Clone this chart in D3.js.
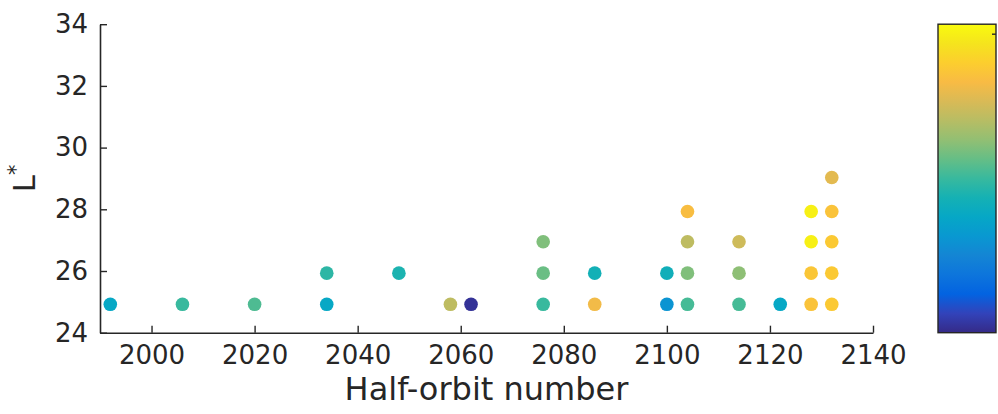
<!DOCTYPE html>
<html>
<head>
<meta charset="utf-8">
<script src="https://cdn.jsdelivr.net/npm/d3@7"></script>
<style>
  html, body { margin: 0; padding: 0; background: #ffffff; }
  svg { display: block; }
  text { font-family: "DejaVu Sans", sans-serif; fill: #262626; }
</style>
</head>
<body>
<svg id="chart" width="998" height="414"></svg>
<script>
// Half-orbit number of each measurement
const halfOrbit = [
  1992, 2006, 2020, 2034, 2034, 2048, 2058, 2062,
  2076, 2076, 2076, 2086, 2086, 2100, 2100,
  2104, 2104, 2104, 2104, 2114, 2114, 2114, 2122,
  2128, 2128, 2128, 2128, 2132, 2132, 2132, 2132, 2132
];
// L* shell of each measurement
const lStar = [
  24.92, 24.92, 24.92, 24.92, 25.93, 25.93, 24.92, 24.92,
  24.92, 25.93, 26.95, 24.92, 25.93, 24.92, 25.93,
  24.92, 25.93, 26.95, 27.93, 24.92, 25.93, 26.95, 24.92,
  24.92, 25.93, 26.95, 27.93, 24.92, 25.93, 26.95, 27.93, 29.03
];
// Normalised colour value of each measurement (0 = bottom of colour bar, 1 = top)
const colourValue = [
  0.38, 0.50, 0.53, 0.38, 0.48, 0.45, 0.70, 0.02,
  0.50, 0.57, 0.60, 0.80, 0.43, 0.30, 0.42,
  0.52, 0.60, 0.70, 0.82, 0.52, 0.62, 0.73, 0.38,
  0.84, 0.85, 0.97, 0.97, 0.86, 0.86, 0.86, 0.84, 0.77
];

// Axis ticks
const xTicks = [2000, 2020, 2040, 2060, 2080, 2100, 2120, 2140];
const yTicks = [24, 26, 28, 30, 32, 34];

// Parula colour map anchors (evenly spaced from 0 to 1)
const parula = [
  [0.2081, 0.1663, 0.5292], [0.1959, 0.2645, 0.7279], [0.0117, 0.3875, 0.8820],
  [0.0498, 0.4586, 0.8641], [0.0793, 0.5200, 0.8312], [0.0343, 0.5966, 0.8199],
  [0.0228, 0.6535, 0.7768], [0.0843, 0.6928, 0.7062], [0.2178, 0.7250, 0.6193],
  [0.3953, 0.7459, 0.5244], [0.5709, 0.7485, 0.4494], [0.7184, 0.7411, 0.3905],
  [0.8507, 0.7299, 0.3360], [0.9739, 0.7314, 0.2666], [0.9880, 0.8066, 0.1794],
  [0.9589, 0.8949, 0.1132], [0.9763, 0.9831, 0.0538]
];
const parulaColours = parula.map(c => d3.rgb(c[0] * 255, c[1] * 255, c[2] * 255).formatHex());
const parulaDomain = parulaColours.map((_, i) => i / (parulaColours.length - 1));
const colour = d3.scaleLinear().domain(parulaDomain).range(parulaColours).interpolate(d3.interpolateRgb);

const svg = d3.select("#chart");
const plot = { left: 100, right: 873, top: 24.2, bottom: 332.7 };

const x = d3.scaleLinear().domain([1990, 2140]).range([plot.left, plot.right]);
const y = d3.scaleLinear().domain([24, 34]).range([plot.bottom, plot.top]);

const axisColour = "#262626";
const fontFamily = "'DejaVu Sans', sans-serif";

// x axis (ticks point into the plot)
const xAxis = svg.append("g")
  .attr("transform", `translate(0,${plot.bottom})`)
  .call(d3.axisBottom(x).tickValues(xTicks).tickSizeInner(-7).tickSizeOuter(0).tickPadding(13).tickFormat(d3.format("d")));
xAxis.select(".domain").attr("stroke", axisColour).attr("stroke-width", 1.6);
xAxis.selectAll(".tick line").attr("stroke", axisColour).attr("stroke-width", 1.4);
xAxis.selectAll(".tick text").attr("font-size", 26).attr("fill", axisColour)
  .attr("font-family", fontFamily);

// y axis
const yAxis = svg.append("g")
  .attr("transform", `translate(${plot.left},0)`)
  .call(d3.axisLeft(y).tickValues(yTicks).tickSizeInner(-7).tickSizeOuter(0).tickPadding(12).tickFormat(d3.format("d")));
yAxis.select(".domain").attr("stroke", axisColour).attr("stroke-width", 1.6);
yAxis.selectAll(".tick line").attr("stroke", axisColour).attr("stroke-width", 1.4);
yAxis.selectAll(".tick text").attr("font-size", 26).attr("fill", axisColour)
  .attr("font-family", fontFamily);

// axis titles
svg.append("text")
  .attr("x", (plot.left + plot.right) / 2)
  .attr("y", 400)
  .attr("text-anchor", "middle")
  .attr("font-size", 32)
  .text("Half-orbit number");

const yTitle = svg.append("text")
  .attr("transform", `translate(35,${(plot.top + plot.bottom) / 2}) rotate(-90)`)
  .attr("text-anchor", "middle")
  .attr("font-size", 31);
yTitle.append("tspan").text("L");
yTitle.append("tspan").attr("dy", -12).attr("font-size", 21).text("*");

// measurements
svg.append("g")
  .selectAll("circle")
  .data(halfOrbit.map((h, i) => ({ h, l: lStar[i], c: colourValue[i] })))
  .join("circle")
  .attr("cx", d => x(d.h))
  .attr("cy", d => y(d.l))
  .attr("r", 6.8)
  .attr("fill", d => colour(d.c));

// colour bar
const bar = { x: 938, y: plot.top, w: 58, h: plot.bottom - plot.top };
const grad = svg.append("defs").append("linearGradient")
  .attr("id", "parulaGrad")
  .attr("x1", 0).attr("y1", 1).attr("x2", 0).attr("y2", 0);
grad.selectAll("stop")
  .data(parulaColours)
  .join("stop")
  .attr("offset", (_, i) => parulaDomain[i])
  .attr("stop-color", d => d);

svg.append("rect")
  .attr("x", bar.x).attr("y", bar.y)
  .attr("width", bar.w).attr("height", bar.h)
  .attr("fill", "url(#parulaGrad)")
  .attr("stroke", axisColour)
  .attr("stroke-width", 1.4);

svg.append("line")
  .attr("x1", bar.x + bar.w).attr("x2", bar.x + bar.w - 4)
  .attr("y1", bar.y + 10).attr("y2", bar.y + 10)
  .attr("stroke", axisColour).attr("stroke-width", 1.4);
</script>
</body>
</html>
